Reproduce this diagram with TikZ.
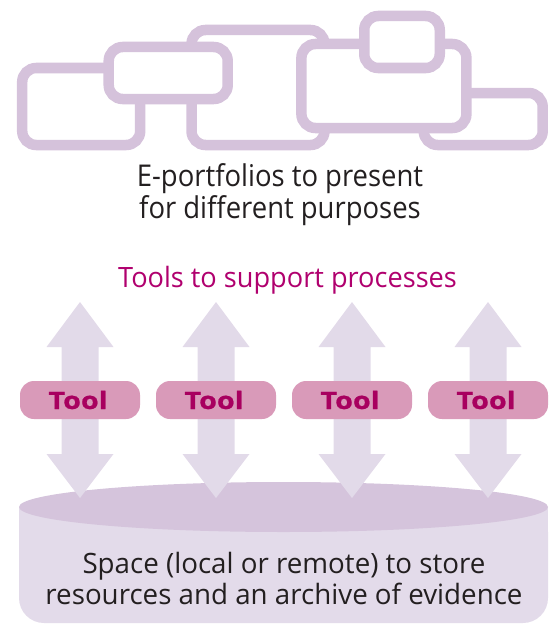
\documentclass[tikz,border=0pt]{standalone}
\usepackage{fontspec}
\setmainfont{Open Sans}
\newfontfamily\topfont[FakeStretch=0.915]{Open Sans}
\newfontfamily\titlefont[FakeStretch=0.97]{Open Sans}
\newfontfamily\bodyfont[FakeStretch=0.99]{Open Sans}
\newfontfamily\toolfont[FakeStretch=1.2,FakeBold=0.8]{Open Sans Bold}
\usetikzlibrary{shapes.geometric}
\definecolor{framec}{HTML}{D5C2DB}
\definecolor{arrowc}{HTML}{E2DAE9}
\definecolor{toolfill}{HTML}{D99AB9}
\definecolor{magentac}{HTML}{A8005F}
\definecolor{titlec}{HTML}{B0006E}
\definecolor{cylbody}{HTML}{E3DBEA}
\definecolor{cyltop}{HTML}{D5C4DC}
\definecolor{darktext}{HTML}{231F20}
\tikzset{
  frame/.style={draw=framec, line width=10.5pt, fill=white, rounded corners=14pt, inner sep=0pt},
  toolbox/.style={fill=toolfill, rounded corners=14pt, minimum width=120pt, minimum height=38pt, inner sep=0pt, text=magentac, font=\fontsize{24}{26}\toolfont},
  darrow/.style={fill=arrowc},
}
\begin{document}
\begin{tikzpicture}[x=1pt,y=-1pt]
\useasboundingbox (0,0) rectangle (558,626);
% frames
\node[frame, minimum width=118pt, minimum height=77pt] (fa) at (81.2,106.5) {};
\node[frame, minimum width=133pt, minimum height=115pt] (fc) at (258,87.5) {};
\node[frame, minimum width=119pt, minimum height=52pt] (ff) at (483.2,119) {};
\node[frame, minimum width=119pt, minimum height=52pt] (fb) at (168.2,73) {};
\node[frame, minimum width=165pt, minimum height=84pt] (fd) at (383.9,86) {};
\node[frame, minimum width=75.5pt, minimum height=52pt] (fe) at (402,42) {};
% texts
\node[text=darktext, align=center, font=\fontsize{30}{32}\topfont] (eport) at (280,195) {E-portfolios to present\\for different purposes};
\node[text=titlec, font=\fontsize{28}{30}\titlefont] (tools) at (287.5,280) {Tools to support processes};
% cylinder
\fill[cylbody, rounded corners=25pt] (19,507) -- (19,623) -- (548,623) -- (548,507) -- cycle;
\fill[cylbody] (19,507) rectangle (548,540);
\node[ellipse, fill=cyltop, minimum width=529pt, minimum height=50pt, inner sep=0pt] (cyl) at (283.5,507) {};
% arrows
\foreach \x/\n in {80/1,216/2,352/3,488/4}{
  \fill[darrow] (\x,302) -- (\x+33.5,347) -- (\x+18.5,347) -- (\x+18.5,454) -- (\x+33.5,454)
    -- (\x,498) -- (\x-33.5,454) -- (\x-18.5,454) -- (\x-18.5,347) -- (\x-33.5,347) -- cycle;
  \node[toolbox] (tool\n) at (\x,400) {\hspace*{-4pt}Tool};
}
\node[text=darktext, align=center, font=\fontsize{28}{31}\bodyfont] (space) at (284,578) {Space (local or remote) to store\\resources and an archive of evidence};
\end{tikzpicture}
\end{document}
